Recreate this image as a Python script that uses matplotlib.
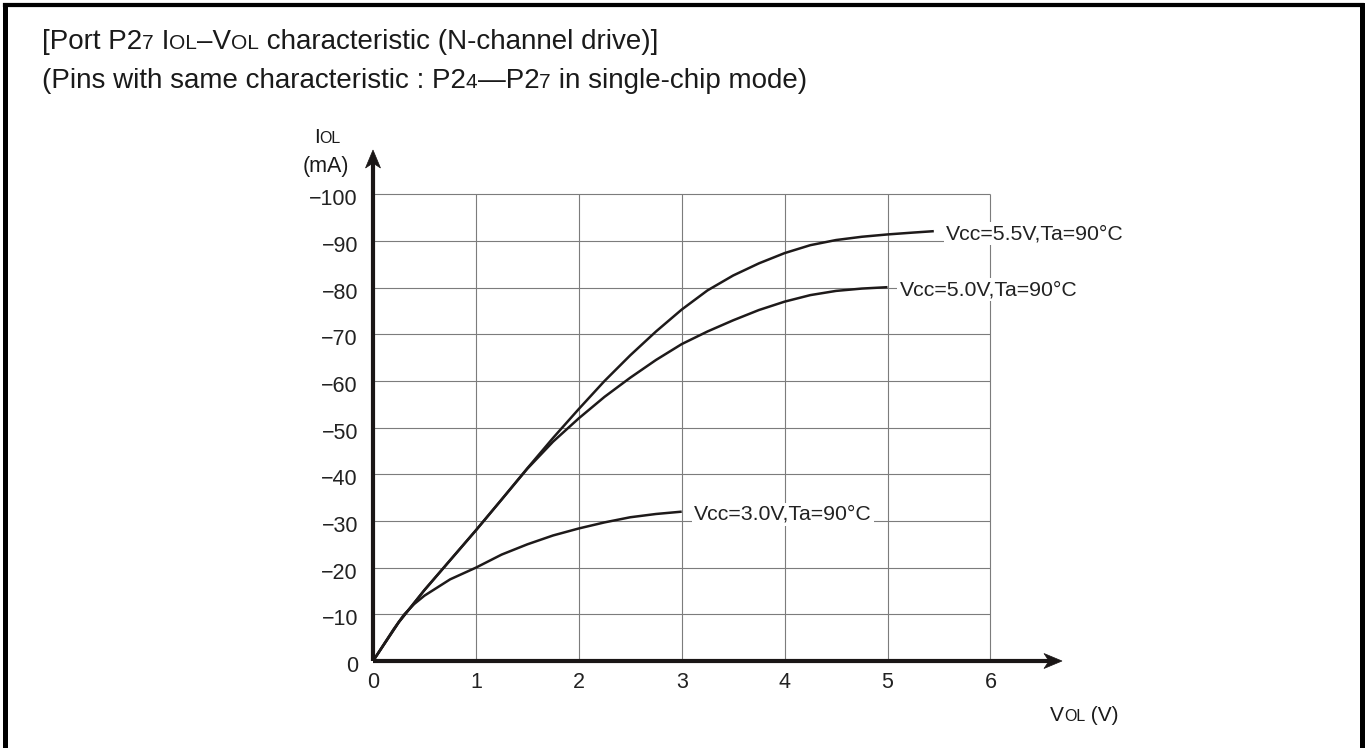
import matplotlib
matplotlib.use('Agg')
import matplotlib.pyplot as plt
import matplotlib.transforms as mtransforms
from matplotlib.patches import Polygon
from matplotlib.lines import Line2D

plt.rcParams['font.family'] = ['Liberation Sans', 'DejaVu Sans']

W, H = 1369, 748

# ---------------- data ----------------
v_55 = [0, 0.25, 0.5, 0.75, 1.0, 1.25, 1.5, 1.75, 2.0, 2.25, 2.5, 2.75, 3.0,
        3.25, 3.5, 3.75, 4.0, 4.25, 4.5, 4.75, 5.0, 5.25, 5.45]
i_55 = [0, -8.3, -15.2, -21.6, -28.0, -34.6, -41.3, -47.8, -54.0, -60.0, -65.5,
        -70.6, -75.3, -79.4, -82.6, -85.2, -87.4, -89.1, -90.2, -90.9, -91.4,
        -91.8, -92.1]

v_50 = [0, 0.25, 0.5, 0.75, 1.0, 1.25, 1.5, 1.75, 2.0, 2.25, 2.5, 2.75, 3.0,
        3.25, 3.5, 3.75, 4.0, 4.25, 4.5, 4.75, 5.0]
i_50 = [0, -8.3, -15.2, -21.6, -28.0, -34.6, -41.2, -47.0, -52.0, -56.6, -60.7,
        -64.5, -67.9, -70.6, -73.0, -75.2, -77.0, -78.4, -79.3, -79.8, -80.1]

v_30 = [0, 0.1, 0.2, 0.3, 0.4, 0.5, 0.75, 1.0, 1.25, 1.5, 1.75, 2.0, 2.25,
        2.5, 2.75, 3.0]
i_30 = [0, -3.4, -6.8, -9.9, -12.2, -14.0, -17.5, -20.0, -22.8, -25.0, -26.9,
        -28.4, -29.7, -30.8, -31.5, -32.0]

curve_labels = ['Vcc=5.5V,Ta=90°C', 'Vcc=5.0V,Ta=90°C', 'Vcc=3.0V,Ta=90°C']

x_ticks = [0, 1, 2, 3, 4, 5, 6]
x_tick_labels = ['0', '1', '2', '3', '4', '5', '6']
y_ticks = [0, -10, -20, -30, -40, -50, -60, -70, -80, -90, -100]
y_tick_labels = ['0', '\u221210', '\u221220', '\u221230', '\u221240', '\u221250',
                 '\u221260', '\u221270', '\u221280', '\u221290', '\u2212100']

# ---------------- figure ----------------
fig = plt.figure(figsize=(W / 100, H / 100), dpi=100)
fig.patch.set_facecolor('white')

AX_L, AX_R, AX_B, AX_T = 373, 1062, 661, 150     # pixel box (top-left origin)
XU = 102.9    # pixels per volt
YU = 4.667    # pixels per mA
ax = fig.add_axes([AX_L / W, 1 - AX_B / H, (AX_R - AX_L) / W, (AX_B - AX_T) / H])
x_tip = (AX_R - AX_L) / XU
y_tip = -(AX_B - AX_T) / YU
ax.set_xlim(0, x_tip)
ax.set_ylim(0, y_tip)
ax.axis('off')

GRID_C = '#7c7c7c'
for xv in x_ticks[1:]:
    ax.plot([xv, xv], [0, y_ticks[-1]], color=GRID_C, lw=0.8, zorder=1,
            solid_capstyle='butt')
for yv in y_ticks[1:]:
    ax.plot([0, x_ticks[-1]], [yv, yv], color=GRID_C, lw=0.8, zorder=1,
            solid_capstyle='butt')

# curves
CURVE_C = '#1e1a1a'
for vv, ii in [(v_55, i_55), (v_50, i_50), (v_30, i_30)]:
    ax.plot(vv, ii, color=CURVE_C, lw=1.8, zorder=3, solid_joinstyle='round',
            solid_capstyle='butt')

# axes with arrows
AXC = '#1a1616'
ax.plot([0, x_tip - 12 / XU], [0, 0], color=AXC, lw=3.0, zorder=4,
        solid_capstyle='butt', clip_on=False)
ax.plot([0, 0], [0, y_tip + 12 / YU], color=AXC, lw=3.0, zorder=4,
        solid_capstyle='butt', clip_on=False)


def arrow_head(x, y, direction):
    L, Wd, N = 18, 7.5, 13
    if direction == 'right':
        pts = [(0, 0), (-L, Wd), (-N, 0), (-L, -Wd)]
    else:
        pts = [(0, 0), (-Wd, -L), (0, -N), (Wd, -L)]
    pts = [(px / 100.0, py / 100.0) for px, py in pts]
    tr = fig.dpi_scale_trans + mtransforms.ScaledTranslation(x, y, ax.transData)
    poly = Polygon(pts, closed=True, transform=tr, facecolor=AXC,
                   edgecolor=AXC, lw=0.5, zorder=5, clip_on=False)
    fig.add_artist(poly)


arrow_head(x_tip, 0, 'right')
arrow_head(0, y_tip, 'up')

TICK_FS = 15.5
for xv, lbl in zip(x_ticks, x_tick_labels):
    ax.annotate(lbl, xy=(xv, 0), xytext=(0, -27), textcoords='offset pixels',
                ha='center', va='baseline', fontsize=TICK_FS, color='#222222',
                annotation_clip=False)
for yv, lbl in zip(y_ticks, y_tick_labels):
    ax.annotate(lbl, xy=(0, yv), xytext=(-15, -11), textcoords='offset pixels',
                ha='right', va='baseline', fontsize=TICK_FS, color='#222222',
                annotation_clip=False)

# curve labels
for vv, ii, lbl in [(v_55, i_55, curve_labels[0]), (v_50, i_50, curve_labels[1]),
                    (v_30, i_30, curve_labels[2])]:
    ax.annotate(lbl, xy=(vv[-1], ii[-1]), xytext=(12, -8),
                textcoords='offset pixels', ha='left', va='baseline',
                fontsize=15.3, color='#222222', zorder=6, annotation_clip=False,
                bbox=dict(boxstyle='square,pad=0.1', fc='white', ec='none'))

# ---------------- mixed-size texts ----------------
fig.canvas.draw()
renderer = fig.canvas.get_renderer()


def advance(s, size):
    t1 = fig.text(0, 0, '|' + s + '|', fontsize=size)
    t2 = fig.text(0, 0, '||', fontsize=size)
    w = t1.get_window_extent(renderer).width - t2.get_window_extent(renderer).width
    t1.remove()
    t2.remove()
    return w


def draw_runs(x_px, base_px, runs, color='#1a1a1a'):
    x = x_px
    for s, size in runs:
        fig.text(x / W, 1 - base_px / H, s, fontsize=size, ha='left',
                 va='baseline', color=color)
        x += advance(s, size)


B = 20.0
S = 15.0
draw_runs(42, 49, [('[Port P2', B), ('7', S), (' I', B), ('OL', S), ('\u2013V', B),
                   ('OL', S), (' characteristic (N-channel drive)]', B)])
draw_runs(42, 88, [('(Pins with same characteristic : P2', B), ('4', S),
                   ('\u2014P2', B), ('7', S), (' in single-chip mode)', B)])

draw_runs(314, 143, [('I', 15), ('OL', 11.5)])
draw_runs(303, 172, [('(mA)', 15.5)])
draw_runs(1050, 721, [('V', 15), ('OL', 11.5), (' (V)', 15)])

# ---------------- frame ----------------
FR = '#000000'
def fline(x0, y0, x1, y1, lw_px):
    fig.add_artist(Line2D([x0 / W, x1 / W], [1 - y0 / H, 1 - y1 / H],
                          transform=fig.transFigure, color=FR,
                          lw=lw_px * 0.72, solid_capstyle='projecting'))

fline(4.5, 5, 4.5, 760, 5)
fline(4.5, 5, 1361.5, 5, 4.2)
fline(1361.5, 5, 1361.5, 760, 5)

fig.savefig('out.png', dpi=100)
